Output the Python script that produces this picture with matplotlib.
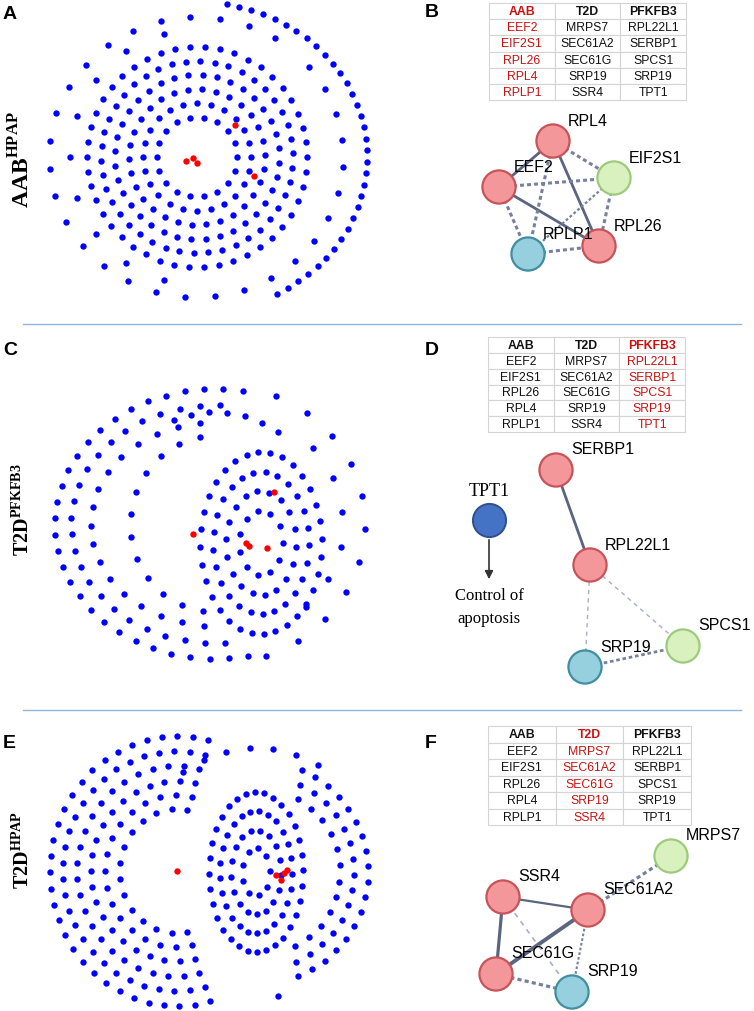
import numpy as np
import matplotlib
matplotlib.use('Agg')
from matplotlib import pyplot as plt

plt.rcParams['font.family'] = ['Liberation Sans', 'DejaVu Sans']
plt.rcParams['mathtext.fontset'] = 'custom'
plt.rcParams['mathtext.rm'] = 'Liberation Serif'
plt.rcParams['mathtext.bf'] = 'Liberation Serif:bold'

# gene lists shown in the tables of B, D, F
table_cols = ['AAB', 'T2D', 'PFKFB3']
aab_genes = ['EEF2', 'EIF2S1', 'RPL26', 'RPL4', 'RPLP1']
t2d_genes = ['MRPS7', 'SEC61A2', 'SEC61G', 'SRP19', 'SSR4']
pfkfb3_genes = ['RPL22L1', 'SERBP1', 'SPCS1', 'SRP19', 'TPT1']

# network layouts (page pixel space), shells: cx, cy, rx, ry, start deg, end deg, nodes
shells_a = [(197, 158, 40, 40, 0, 360, 18), (197, 158, 54, 54, 0, 360, 24),
            (197, 158, 68, 68, 0, 360, 30), (197, 158, 82, 82, 0, 360, 36),
            (197, 158, 96, 96, 0, 360, 42), (197, 158, 110, 110, 0, 360, 46),
            (197, 158, 127, 127, 105, 255, 9), (197, 158, 148, 140, 58, 300, 22),
            (197, 158, 170, 155, 80, -62, 34), (197, 158, 146, 140, 40, -48, 9)]
hits_a_x = [235, 186, 193, 197, 254]
hits_a_y = [126, 162, 159, 164, 177]

shells_c = [(215, 525, 160, 135, 80, 282, 30), (215, 525, 144, 119, 88, 274, 24),
            (215, 525, 124, 102, 97, 265, 17), (215, 525, 85, 88, 100, 262, 12),
            (215, 525, 110, 112, 55, 112, 7), (215, 525, 150, 140, 66, -70, 11),
            (215, 525, 128, 118, 40, -45, 6),
            (261, 544, 22, 32, 0, 360, 11), (261, 544, 35, 52, 0, 360, 18),
            (261, 544, 48, 71, 0, 360, 25), (261, 544, 61, 91, 0, 360, 32)]
hits_c_x = [274, 193, 246, 249, 267]
hits_c_y = [493, 535, 544, 547, 549]

shells_e = [(177, 872, 58, 62, 80, 280, 14), (177, 872, 72, 76, 78, 282, 17),
            (177, 872, 86, 90, 78, 282, 21), (177, 872, 100, 105, 77, 283, 24),
            (177, 872, 114, 120, 76, 284, 28), (177, 872, 127, 135, 76, 285, 31),
            (256, 873, 14, 24, 0, 360, 9), (256, 873, 25, 42, 0, 360, 17),
            (256, 873, 36, 61, 0, 360, 25), (256, 873, 47, 80, 0, 360, 32),
            (256, 873, 84, 84, 60, -62, 12), (256, 873, 98, 98, 63, -66, 15),
            (256, 873, 112, 112, 66, -68, 18), (256, 873, 124, 124, 60, 126, 7),
            (256, 873, 126, 126, -80, -80, 1)]
hits_e_x = [177, 276, 281, 284, 287]
hits_e_y = [872, 876, 881, 874, 871]

# STRING-style sub networks
b_names = ['RPL4', 'EIF2S1', 'EEF2', 'RPLP1', 'RPL26']
b_x = [553, 614, 499, 528, 599]
b_y = [142, 179, 188, 255, 247]
b_kind = ['red', 'green', 'red', 'blue', 'red']
b_edges = [('RPL4', 'EEF2', 'solid', 2.0), ('RPL4', 'RPL26', 'solid', 2.0),
           ('EEF2', 'RPL26', 'solid', 2.0), ('RPL4', 'EIF2S1', 'dash', 2.2),
           ('EEF2', 'EIF2S1', 'dash', 2.2), ('RPL4', 'RPLP1', 'dash', 2.2),
           ('EEF2', 'RPLP1', 'dash', 2.2), ('EIF2S1', 'RPLP1', 'dash', 1.6),
           ('EIF2S1', 'RPL26', 'dash', 2.2), ('RPLP1', 'RPL26', 'dash', 2.2)]

d_names = ['SERBP1', 'RPL22L1', 'SPCS1', 'SRP19']
d_x = [556, 590, 683, 585]
d_y = [471, 566, 647, 668]
d_kind = ['red', 'red', 'green', 'blue']
d_edges = [('SERBP1', 'RPL22L1', 'solid', 2.0), ('RPL22L1', 'SRP19', 'thin', 1.0),
           ('RPL22L1', 'SPCS1', 'thin', 1.0), ('SRP19', 'SPCS1', 'dash', 2.0)]

f_names = ['MRPS7', 'SSR4', 'SEC61A2', 'SEC61G', 'SRP19']
f_x = [671, 503, 588, 496, 572]
f_y = [857, 898, 911, 975, 993]
f_kind = ['green', 'red', 'red', 'red', 'blue']
f_edges = [('SSR4', 'SEC61A2', 'solid', 1.6), ('SSR4', 'SEC61G', 'solid', 2.3),
           ('SEC61A2', 'SEC61G', 'solid', 2.8), ('MRPS7', 'SEC61A2', 'dash', 2.3),
           ('SSR4', 'SRP19', 'thin', 1.2), ('SEC61A2', 'SRP19', 'dash', 1.5),
           ('SEC61G', 'SRP19', 'dash', 2.3)]

node_face = {'red': '#f4979b', 'green': '#d8f1be', 'blue': '#96cfdd'}
node_edge = {'red': '#c65458', 'green': '#9ccb7c', 'blue': '#3f8ea2'}


def shell_nodes(shells):
    xs, ys = [], []
    for i, (cx, cy, rx, ry, a0, a1, n) in enumerate(shells):
        full = abs(a1 - a0) >= 360
        t = np.linspace(a0, a1, n, endpoint=not full)
        if full:
            t = t + (i % 2) * 180.0 / n + i * 7
        t = np.radians(t)
        xs.append(cx + rx * np.cos(t))
        ys.append(cy - ry * np.sin(t))
    return np.concatenate(xs), np.concatenate(ys)


fig = plt.figure(figsize=(7.54, 10.12), dpi=100)
ax = fig.add_axes([0, 0, 1, 1])
ax.set_xlim(0, 754)
ax.set_ylim(1012, 0)
ax.axis('off')

# left: big networks
for shells, hx, hy in [(shells_a, hits_a_x, hits_a_y),
                       (shells_c, hits_c_x, hits_c_y),
                       (shells_e, hits_e_x, hits_e_y)]:
    x, y = shell_nodes(shells)
    ax.scatter(x, y, s=21, color='#0000ff', linewidths=0, zorder=2)
    ax.scatter(hx, hy, s=21, color='#ff0000', linewidths=0, zorder=3)

row_labels = [(r'$\mathbf{AAB}^{\mathbf{HPAP}}$', 160, 17),
              (r'$\mathbf{T2D}^{\mathbf{PFKFB3}}$', 510, 14.5),
              (r'$\mathbf{T2D}^{\mathbf{HPAP}}$', 850, 14.5)]
for txt, yc, fs in row_labels:
    ax.text(22, yc, txt, rotation=90, ha='center', va='center', fontsize=fs)

# panel letters
for letter, lx, ly in [('A', 3, 14), ('B', 425, 12), ('C', 3, 350),
                       ('D', 425, 350), ('E', 3, 744), ('F', 425, 744)]:
    ax.text(lx, ly, letter, fontsize=14, fontweight='bold', va='center')

# separators
for sy in [325, 711]:
    ax.plot([23, 741], [sy, sy], color='#8db4e2', lw=1)

# tables
rows = [list(r) for r in zip(aab_genes, t2d_genes, pfkfb3_genes)]
for (x0, y0, x1, y1, hcol) in [(489, 4, 686, 101, 0), (488, 338, 685, 433, 2),
                               (488, 727, 691, 826, 1)]:
    tb = ax.table(cellText=rows, colLabels=table_cols, cellLoc='center',
                  bbox=[x0 / 754, 1 - y1 / 1012, (x1 - x0) / 754, (y1 - y0) / 1012])
    tb.auto_set_font_size(False)
    tb.set_fontsize(8.8)
    for (r, c), cell in tb.get_celld().items():
        cell.set_edgecolor('#d4d4d4')
        cell.set_linewidth(0.8)
        cell.PAD = 0.02
        col = '#cc1010' if c == hcol else '#111111'
        cell.get_text().set_color(col)
        if r == 0:
            cell.get_text().set_fontweight('bold')


def draw_net(names, xs, ys, kinds, edges):
    pos = {n: (x, y) for n, x, y in zip(names, xs, ys)}
    for a, b, style, lw in edges:
        (xa, ya), (xb, yb) = pos[a], pos[b]
        if style == 'solid':
            ax.plot([xa, xb], [ya, yb], color='#5a6580', lw=lw, zorder=4,
                    solid_capstyle='butt')
        elif style == 'dash':
            ax.plot([xa, xb], [ya, yb], color='#7880a0', lw=lw, zorder=4,
                    linestyle=(0, (1.3, 1.0)))
        else:
            ax.plot([xa, xb], [ya, yb], color='#a8aec4', lw=lw, zorder=4,
                    linestyle=(0, (3, 3)))
    ax.scatter(xs, ys, s=570, c=[node_face[k] for k in kinds],
               edgecolors=[node_edge[k] for k in kinds], linewidths=1.6, zorder=5)
    for n, x, y in zip(names, xs, ys):
        ax.text(x + 15, y - 21, n, fontsize=11.5, ha='left', va='center', zorder=6)


draw_net(b_names, b_x, b_y, b_kind, b_edges)
draw_net(d_names, d_x, d_y, d_kind, d_edges)
draw_net(f_names, f_x, f_y, f_kind, f_edges)

# TPT1 annotation in D
ax.scatter([489], [521], s=570, color='#4472c4', edgecolors='#2f4f8f',
           linewidths=1.4, zorder=5)
ax.text(489, 492, 'TPT1', fontsize=13, family='Liberation Serif',
        ha='center', va='center')
ax.annotate('', xy=(489, 583), xytext=(489, 538),
            arrowprops=dict(arrowstyle='-|>', color='#333333', lw=1.2,
                            mutation_scale=12))
ax.text(489, 596, 'Control of', fontsize=12, family='Liberation Serif',
        ha='center', va='center')
ax.text(489, 619, 'apoptosis', fontsize=12, family='Liberation Serif',
        ha='center', va='center')

fig.savefig('out.png', dpi=100)
